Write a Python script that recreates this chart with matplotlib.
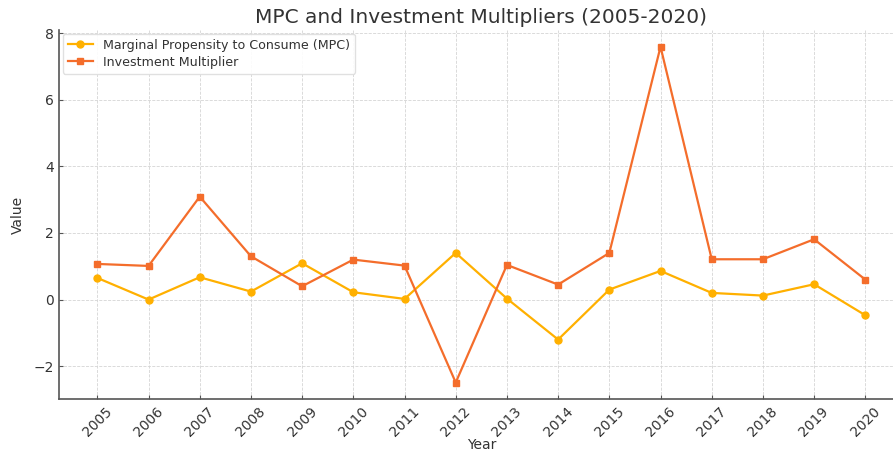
import matplotlib.pyplot as plt

years = list(range(2005, 2021))
mpc = [0.65, 0.00, 0.67, 0.24, 1.09, 0.22, 0.02, 1.40,
       0.03, -1.20, 0.30, 0.86, 0.20, 0.12, 0.46, -0.47]
multiplier = [1.07, 1.01, 3.09, 1.30, 0.40, 1.20, 1.02, -2.49,
              1.04, 0.45, 1.40, 7.59, 1.21, 1.21, 1.81, 0.60]

text_color = '#333333'

fig = plt.figure(figsize=(8.93, 4.51), dpi=100)
ax = fig.add_axes([0.066, 0.1146, 0.946, 0.819])

ax.plot(years, mpc, marker='o', markersize=5, color='#ffb000',
        linewidth=1.6, label='Marginal Propensity to Consume (MPC)')
ax.plot(years, multiplier, marker='s', markersize=5, color='#f46d2b',
        linewidth=1.6, label='Investment Multiplier')

ax.set_title('MPC and Investment Multipliers (2005-2020)', fontsize=14.5,
             color=text_color, pad=5)
ax.set_xlabel('Year', fontsize=10, color=text_color, labelpad=-1)
ax.set_ylabel('Value', fontsize=10, color=text_color, labelpad=6)
ax.set_xticks(years)
ax.set_xticklabels([str(y) for y in years], rotation=45)
ax.tick_params(axis='both', direction='in', length=3, labelsize=10,
               labelcolor=text_color, color='#555555')

ax.grid(True, linestyle='--', linewidth=0.6, color='#d5d5d5')
for side in ['top', 'right']:
    ax.spines[side].set_visible(False)
for side in ['left', 'bottom']:
    ax.spines[side].set_color('#555555')
    ax.spines[side].set_linewidth(1.2)

ax.legend(loc='upper left', fontsize=9.1, frameon=True, framealpha=0.9,
          edgecolor='#dddddd', borderaxespad=0.3, labelspacing=0.3,
          labelcolor=text_color)

plt.savefig('out.png', dpi=100)
